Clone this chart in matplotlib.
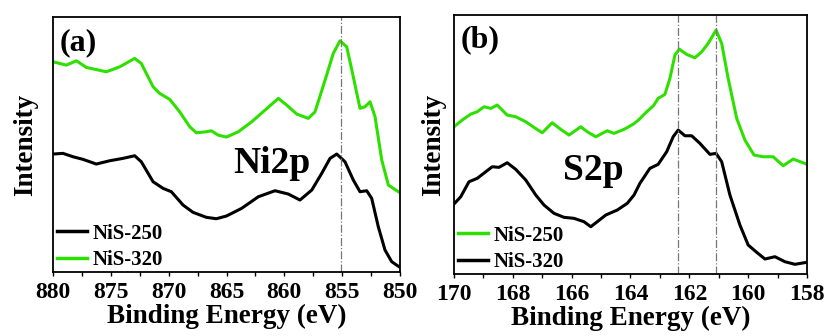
import numpy as np
import matplotlib.pyplot as plt

plt.rcParams['font.family'] = ['Liberation Serif', 'DejaVu Serif']
plt.rcParams['font.weight'] = 'bold'

GREEN = '#2ee000'

# Ni2p panel (a) (arbitrary intensity units)
ni_energy_320 = [880, 878.85, 877.98, 877.12, 875.39, 874.23, 872.94, 872.37, 871.35, 870.78,
                 869.91, 869.05, 868.18, 867.61, 866.75, 866.31, 865.73, 865.01, 863.98,
                 862.82, 861.67, 860.52, 859.80, 858.93, 857.93, 857.35, 856.48, 855.77,
                 855.19, 854.61, 854.04, 853.46, 853.03, 852.59, 852.16, 851.58, 851.01,
                 850.14]
ni_int_320 = [210.3, 207, 211.3, 204.7, 200.3, 205.3, 213.7, 208.7, 185.3, 178.7,
              172.7, 160.3, 145.3, 139.3, 140.3, 141.3, 137, 135, 140.3,
              150.3, 162, 173.7, 167, 158, 153.7, 160.3, 192, 218.7,
              231.3, 225.3, 195.3, 163.7, 165.3, 170.3, 155.3, 112, 87,
              80.3]

ni_energy_250 = [880, 879.14, 878.27, 877.41, 876.26, 875.1, 873.95, 872.94, 872.37, 871.35,
                 870.49, 869.77, 868.76, 867.9, 866.75, 865.88, 865.01, 863.69, 862.25,
                 860.81, 859.66, 858.65, 857.63, 856.77, 856.05, 855.47, 854.76, 854.04,
                 853.46, 852.88, 852.45, 851.88, 851.30, 850.72, 850.09]
ni_int_250 = [118, 118.7, 115.3, 112.7, 108, 111.3, 113.7, 116.3, 110.3, 90.3,
              83.7, 80.3, 67, 59.7, 54.7, 53.3, 56, 63.7, 75.3,
              81.3, 78, 72, 82, 98.7, 113.7, 118, 110.3, 92,
              80.3, 81.3, 73.7, 45.3, 22, 10.3, 5.3]

# S2p panel (b)
s_energy_250 = [170, 169.72, 169.43, 169.21, 168.98, 168.75, 168.53, 168.19, 167.9, 167.56,
                167.28, 167.0, 166.66, 166.37, 166.09, 165.69, 165.47, 165.18, 164.79,
                164.56, 164.22, 163.9, 163.73, 163.45, 163.22, 163.06, 162.83, 162.66,
                162.49, 162.34, 162.09, 161.81, 161.58, 161.36, 161.09, 160.9, 160.68,
                160.39, 160.11, 159.8, 159.49, 159.15, 158.81, 158.47, 157.99]
s_int_250 = [147.3, 154, 160, 162.3, 167.3, 165.7, 169, 159, 157.3, 152.3,
             146.7, 141.3, 151.3, 144.7, 139, 147.3, 142.3, 137.3, 143.3,
             140.7, 144.7, 150, 154, 162.3, 168.3, 175.7, 179.7, 195.7,
             219, 225, 219.7, 216.3, 222.3, 230.7, 244, 230.7, 195.7,
             155.7, 134, 119, 117.3, 117.3, 108.3, 115, 109.7]

s_energy_320 = [170, 169.77, 169.49, 169.21, 168.92, 168.7, 168.47, 168.19, 167.9, 167.56,
                167.22, 166.94, 166.6, 166.26, 165.92, 165.58, 165.35, 165.13, 164.84,
                164.45, 164.11, 163.88, 163.68, 163.34, 163.06, 162.77, 162.55, 162.38,
                162.15, 161.92, 161.64, 161.3, 161.09, 160.9, 160.62, 160.28, 160.0,
                159.71, 159.43, 159.09, 158.75, 158.41, 158.01]
s_int_320 = [70, 77.3, 92.3, 95.7, 102.3, 107.3, 106.7, 111.3, 104.7, 94,
             79, 69, 60.7, 56.7, 55.7, 52.3, 47.3, 52.3, 59,
             64, 70.7, 79, 90.7, 105.7, 109.7, 122.3, 137.3, 144,
             138.3, 138.3, 130.7, 119.7, 120.7, 112.3, 79, 49, 29,
             21.7, 15, 17.3, 12.3, 9.7, 11.7]

ni_peak = [855.1]
s_peaks = [162.38, 161.09]

fig = plt.figure(figsize=(8.26, 3.36), dpi=100)
ax1 = fig.add_axes([0.0642, 0.1905, 0.4201, 0.7585])
ax2 = fig.add_axes([0.5496, 0.1845, 0.4274, 0.7705])

ax1.plot(ni_energy_250, ni_int_250, color='black', lw=2.2, label='NiS-250')
ax1.plot(ni_energy_320, ni_int_320, color=GREEN, lw=2.2, label='NiS-320')
for p in ni_peak:
    ax1.axvline(p, color='#777777', lw=0.9, ls='-.')
ax1.set_xlim(880, 850)
ax1.set_ylim(0, 255)
ax1.set_xticks([880, 875, 870, 865, 860, 855, 850])
ax1.set_xticks([877.5, 872.5, 867.5, 862.5, 857.5, 852.5], minor=True)
ax1.text(0.02, 0.955, '(a)', transform=ax1.transAxes, fontsize=23, fontweight='bold', va='top')
ax1.text(0.52, 0.39, 'Ni2p', transform=ax1.transAxes, fontsize=27, fontweight='bold',
         va='baseline')
ax1.set_ylabel('Intensity', fontsize=19.5, fontweight='bold', labelpad=11)

ax2.plot(s_energy_250, s_int_250, color=GREEN, lw=2.2, label='NiS-250')
ax2.plot(s_energy_320, s_int_320, color='black', lw=2.2, label='NiS-320')
for p in s_peaks:
    ax2.axvline(p, color='#777777', lw=0.9, ls='-.')
ax2.set_xlim(170, 158)
ax2.set_ylim(0, 259)
ax2.set_xticks([170, 168, 166, 164, 162, 160, 158])
ax2.set_xticks([169, 167, 165, 163, 161, 159], minor=True)
ax2.text(0.02, 0.96, '(b)', transform=ax2.transAxes, fontsize=23, fontweight='bold', va='top')
ax2.text(0.31, 0.363, 'S2p', transform=ax2.transAxes, fontsize=27, fontweight='bold',
         va='baseline')
ax2.set_ylabel('Intensity', fontsize=19.5, fontweight='bold', labelpad=6)

for ax in (ax1, ax2):
    ax.set_yticks([])
    ax.set_xlabel('Binding Energy (eV)', fontsize=19.5, fontweight='bold', labelpad=1)
    ax.tick_params(axis='x', which='major', direction='out', length=3, width=1,
                   labelsize=17, pad=4)
    ax.tick_params(axis='x', which='minor', direction='out', length=3, width=1)
    for s in ax.spines.values():
        s.set_linewidth(1.3)
    leg = ax.legend(loc='lower left', bbox_to_anchor=(0.012, 0.008), frameon=False,
                    fontsize=15, handlelength=1.45, handletextpad=0.25, labelspacing=0.3,
                    borderaxespad=0.0, borderpad=0.0)
    for line in leg.get_lines():
        line.set_linewidth(2.5)

fig.savefig('out.png', dpi=100)
